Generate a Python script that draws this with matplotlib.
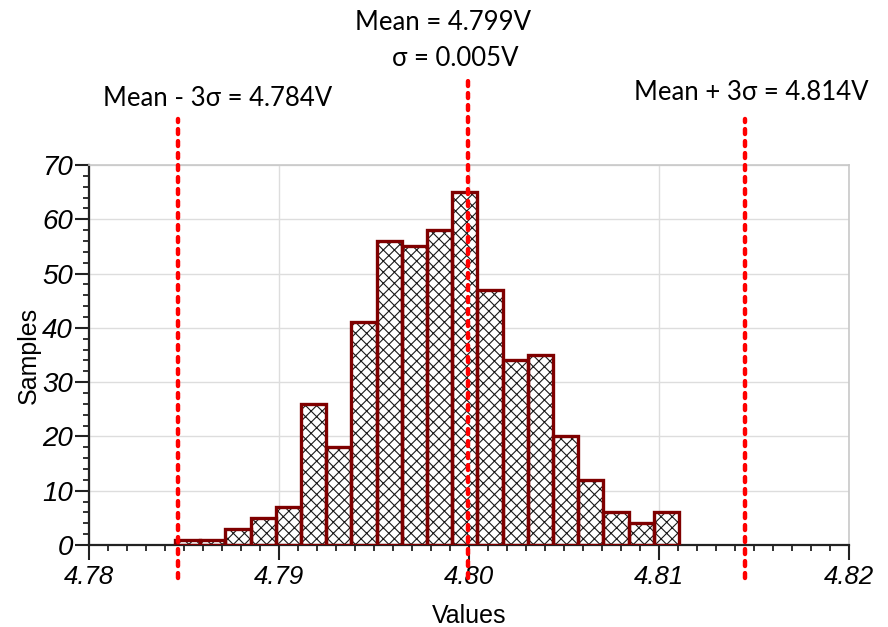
import numpy as np
import matplotlib
matplotlib.use("Agg")
import matplotlib.pyplot as plt
from matplotlib.ticker import MultipleLocator

# histogram data
BIN_START = 4.78453
BIN_END = 4.81105
COUNTS = [1, 1, 3, 5, 7, 26, 18, 41, 56, 55, 58, 65, 47, 34, 35, 20, 12, 6, 4, 6]

MEAN = 4.79995
LOWER = 4.78468
UPPER = 4.81453

X_TICKS = [4.78, 4.79, 4.80, 4.81, 4.82]
X_TICK_LABELS = ["4.78", "4.79", "4.80", "4.81", "4.82"]
Y_TICKS = [0, 10, 20, 30, 40, 50, 60, 70]

EDGE_RED = "#7f0000"
LINE_RED = "#ff0000"
ANNOT_FONT = ["Lato", "DejaVu Sans"]

plt.rcParams["font.family"] = ["Liberation Sans", "DejaVu Sans"]
plt.rcParams["hatch.linewidth"] = 0.8

fig = plt.figure(figsize=(8.88, 6.27), dpi=100)
ax = fig.add_axes([0.1002, 0.1308, 0.8558, 0.606])

edges = np.linspace(BIN_START, BIN_END, len(COUNTS) + 1)
lefts = edges[:-1]
width = edges[1] - edges[0]

# hatch layer (black) then outline layer (dark red)
ax.bar(lefts, COUNTS, width=width, align="edge", color="white",
       edgecolor="#1a1a1a", hatch="xxx", linewidth=0, zorder=2)
ax.bar(lefts, COUNTS, width=width, align="edge", fill=False,
       edgecolor=EDGE_RED, linewidth=2.4, zorder=3)

ax.set_xlim(4.78, 4.82)
ax.set_ylim(0, 70)
ax.set_xticks(X_TICKS)
ax.set_xticklabels(X_TICK_LABELS)
ax.set_yticks(Y_TICKS)
ax.xaxis.set_minor_locator(MultipleLocator(0.001))
ax.yaxis.set_minor_locator(MultipleLocator(2))

ax.grid(True, which="major", color="#dddddd", linewidth=1.0, zorder=0)
ax.set_axisbelow(True)

for side in ["top", "right"]:
    ax.spines[side].set_color("#c8c8c8")
    ax.spines[side].set_linewidth(1.2)
for side in ["left", "bottom"]:
    ax.spines[side].set_color("#222222")
    ax.spines[side].set_linewidth(1.6)

ax.tick_params(axis="both", which="major", direction="out", length=10.5,
               width=1.5, color="#222222")
ax.tick_params(axis="both", which="minor", direction="out", length=4.5,
               width=1.3, color="#222222")
ax.tick_params(axis="y", which="major", length=10, pad=1.5, labelsize=20)
ax.tick_params(axis="x", which="major", pad=4, labelsize=18.5)
for lbl in ax.get_xticklabels() + ax.get_yticklabels():
    lbl.set_fontstyle("italic")

ax.set_xlabel("Values", fontsize=18, labelpad=11)
ax.set_ylabel("Samples", fontsize=18, labelpad=1)

# red dotted limit lines, reaching past the axes
ax.plot([MEAN, MEAN], [-6, 86.5], color=LINE_RED, linestyle=(0, (1.1, 1.6)),
        linewidth=3.2, clip_on=False, zorder=5, dash_capstyle="round")
for xv in [LOWER, UPPER]:
    ax.plot([xv, xv], [-6, 78.5], color=LINE_RED, linestyle=(0, (1.1, 1.6)),
            linewidth=3.2, clip_on=False, zorder=5, dash_capstyle="round")

fig.text(443 / 888, 1 - 23 / 627, "Mean = 4.799V", ha="center", va="center",
         fontsize=18.5, family=ANNOT_FONT)
fig.text(455 / 888, 1 - 59 / 627, "σ = 0.005V", ha="center", va="center",
         fontsize=18.5, family=ANNOT_FONT)
fig.text(218 / 888, 1 - 99 / 627, "Mean - 3σ = 4.784V", ha="center", va="center",
         fontsize=18.5, family=ANNOT_FONT)
fig.text(751 / 888, 1 - 93 / 627, "Mean + 3σ = 4.814V", ha="center", va="center",
         fontsize=18.5, family=ANNOT_FONT)

fig.savefig("out.png", dpi=100)
